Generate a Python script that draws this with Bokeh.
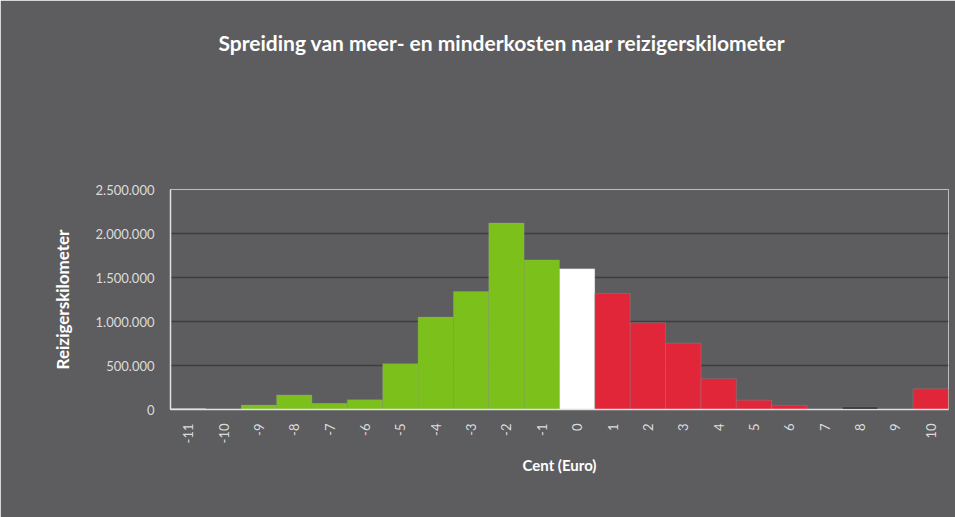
import math
from bokeh.plotting import figure
from bokeh.models import FactorRange, Range1d, Title, CustomJSTickFormatter, ColumnDataSource, FixedTicker
from bokeh.embed import file_html
from bokeh.resources import INLINE

cents = ["-11", "-10", "-9", "-8", "-7", "-6", "-5", "-4", "-3", "-2", "-1",
         "0", "1", "2", "3", "4", "5", "6", "7", "8", "9", "10"]
kilometers = [12000, 4000, 50000, 165000, 70000, 110000, 520000, 1050000, 1340000, 2120000, 1700000,
              1600000, 1320000, 985000, 755000, 350000, 105000, 48000, 0, 25000, 0, 235000]
bar_colors = ["#e8e8e8", "#e8e8e8"] + ["#7cc11b"] * 9 + ["#ffffff"] + ["#e2263a"] * 7 + ["#111111", "#e2263a", "#e2263a"]
y_ticks = [0, 500000, 1000000, 1500000, 2000000, 2500000]

BG = "#5d5d5f"
FONT = "Lato"

src = ColumnDataSource(dict(cent=cents, km=kilometers, color=bar_colors))

p = figure(x_range=FactorRange(*cents), y_range=Range1d(0, 2500000),
           width=955, height=517, output_backend="svg", toolbar_location=None,
           min_border_left=170, min_border_right=7, min_border_top=0, min_border_bottom=108)
p.background_fill_color = BG
p.border_fill_color = BG
p.outline_line_color = "#bdbdbd"
p.outline_line_width = 1

p.vbar(x="cent", top="km", width=1.0, source=src, fill_color="color",
       line_color="#9a9a9a", line_width=0.6, line_alpha=0.5)

p.xgrid.grid_line_color = None
p.ygrid.grid_line_color = "#3e3e40"
p.ygrid.grid_line_width = 1.3
p.yaxis.ticker = FixedTicker(ticks=y_ticks)
p.yaxis.formatter = CustomJSTickFormatter(code="return tick.toFixed(0).replace(/\\B(?=(\\d{3})+(?!\\d))/g, '.');")

for ax in (p.xaxis[0], p.yaxis[0]):
    ax.axis_line_color = "#e0e0e0"
    ax.axis_line_width = 1.5
    ax.major_tick_line_color = None
    ax.minor_tick_line_color = None
    ax.major_label_text_color = "#dcdcdc"
    ax.major_label_text_font = FONT
    ax.major_label_text_font_size = "13px"
    ax.axis_label_text_color = "#ffffff"
    ax.axis_label_text_font = FONT
    ax.axis_label_text_font_style = "bold"

p.yaxis.axis_label = "Reizigerskilometer"
p.yaxis.axis_label_text_font_size = "17px"
p.yaxis.major_label_standoff = 10
p.yaxis.axis_label_standoff = 20
p.xaxis.axis_label = "Cent (Euro)"
p.xaxis.axis_label_text_font_size = "15px"
p.xaxis.major_label_orientation = math.pi / 2
p.xaxis.major_label_standoff = 8
p.xaxis.axis_label_standoff = 10

# spacer nearest the frame, then the real title further out
p.add_layout(Title(text="\u00a0", text_font_size="1px", standoff=101,
                   background_fill_color=None), "above")
p.add_layout(Title(text="Spreiding van meer- en minderkosten naar reizigerskilometer",
                   text_color="#ffffff", text_font=FONT, text_font_size="21px",
                   text_font_style="bold", align="left", offset=48, vertical_align="top",
                   standoff=58), "above")

open("out.html", "w").write(file_html(p, INLINE))
